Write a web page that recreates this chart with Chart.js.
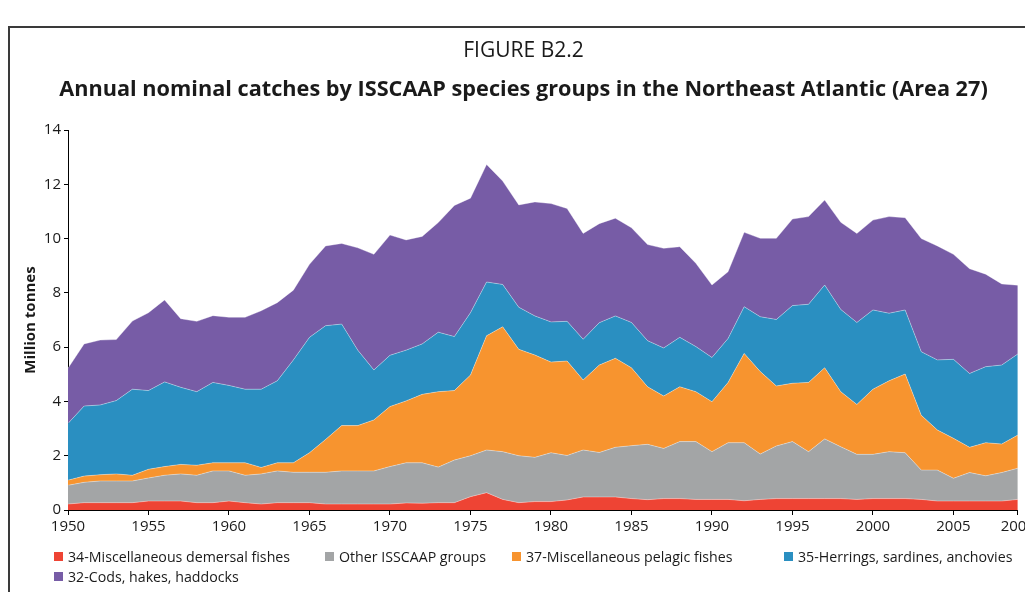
<!DOCTYPE html>
<html>
<head>
<meta charset="utf-8">
<script src="https://cdn.jsdelivr.net/npm/chart.js@4.4.0/dist/chart.umd.min.js"></script>
<style>
  html, body { margin: 0; padding: 0; background: #fff; overflow: hidden; width: 1025px; height: 592px; }
  #frame { position: absolute; left: 8px; top: 26px; width: 1100px; height: 700px;
           border-left: 2px solid #3a3a3a; border-top: 2px solid #3a3a3a; }
  #wrap { position: absolute; left: 0; top: 0; width: 1038px; height: 592px; }
  .lg { position: absolute; font-family: 'Open Sans', sans-serif; font-size: 14.2px; color: #1a1a1a;
        white-space: nowrap; line-height: 18px; }
  .lg i { position: absolute; left: 0; top: 4px; width: 9px; height: 9px; }
  .lg span { padding-left: 14px; }
</style>
</head>
<body>
<div id="frame"></div>
<div id="wrap"><canvas id="catchChart" width="1038" height="592"></canvas></div>
<div id="legend"></div>
<script>
// years on the x axis and the ones that get a label
const years = [];
for (let y = 1950; y <= 2009; y++) years.push(String(y));
const xTickLabels = ['1950', '1955', '1960', '1965', '1970', '1975', '1980', '1985', '1990', '1995', '2000', '2005', '2009'];

// million tonnes (bottom layer first)
const demersal = [0.22, 0.27, 0.27, 0.27, 0.27, 0.33, 0.33, 0.33, 0.27, 0.27,
  0.33, 0.27, 0.22, 0.27, 0.27, 0.27, 0.22, 0.22, 0.22, 0.22,
  0.22, 0.26, 0.25, 0.27, 0.27, 0.49, 0.64, 0.39, 0.27, 0.31,
  0.31, 0.37, 0.48, 0.48, 0.48, 0.42, 0.38, 0.42, 0.42, 0.39,
  0.39, 0.39, 0.34, 0.39, 0.42, 0.42, 0.42, 0.42, 0.42, 0.39,
  0.42, 0.42, 0.42, 0.39, 0.33, 0.33, 0.33, 0.33, 0.33, 0.39];
const otherGroups = [0.69, 0.75, 0.80, 0.80, 0.80, 0.85, 0.95, 1.00, 1.01, 1.17,
  1.11, 1.01, 1.11, 1.17, 1.12, 1.12, 1.17, 1.22, 1.22, 1.22,
  1.38, 1.48, 1.49, 1.31, 1.57, 1.51, 1.57, 1.76, 1.73, 1.63,
  1.80, 1.64, 1.73, 1.64, 1.83, 1.95, 2.04, 1.85, 2.10, 2.13,
  1.76, 2.09, 2.14, 1.67, 1.94, 2.10, 1.73, 2.20, 1.91, 1.66,
  1.63, 1.73, 1.69, 1.08, 1.14, 0.84, 1.05, 0.93, 1.05, 1.15];
const pelagic = [0.19, 0.23, 0.23, 0.26, 0.21, 0.32, 0.32, 0.35, 0.37, 0.30,
  0.30, 0.46, 0.24, 0.30, 0.35, 0.72, 1.21, 1.67, 1.67, 1.88,
  2.21, 2.28, 2.52, 2.78, 2.56, 2.97, 4.21, 4.60, 3.92, 3.77,
  3.34, 3.48, 2.58, 3.22, 3.28, 2.87, 2.12, 1.93, 2.02, 1.84,
  1.84, 2.22, 3.29, 3.04, 2.21, 2.15, 2.55, 2.62, 2.03, 1.84,
  2.40, 2.61, 2.90, 2.02, 1.48, 1.47, 0.93, 1.22, 1.05, 1.22];
const herrings = [2.09, 2.58, 2.57, 2.70, 3.17, 2.90, 3.12, 2.84, 2.71, 2.96,
  2.85, 2.71, 2.88, 3.02, 3.79, 4.25, 4.19, 3.74, 2.78, 1.84,
  1.89, 1.87, 1.86, 2.19, 1.99, 2.30, 1.98, 1.56, 1.55, 1.44,
  1.48, 1.46, 1.50, 1.56, 1.56, 1.67, 1.70, 1.77, 1.82, 1.66,
  1.63, 1.62, 1.72, 2.02, 2.45, 2.86, 2.88, 3.05, 3.03, 3.02,
  2.92, 2.49, 2.36, 2.34, 2.58, 2.91, 2.72, 2.80, 2.91, 2.99];
const cods = [2.03, 2.29, 2.39, 2.25, 2.51, 2.87, 3.02, 2.53, 2.59, 2.46,
  2.51, 2.65, 2.89, 2.88, 2.57, 2.69, 2.94, 2.97, 3.77, 4.26,
  4.43, 4.06, 3.96, 4.04, 4.83, 4.22, 4.33, 3.81, 3.77, 4.20,
  4.36, 4.16, 3.90, 3.65, 3.60, 3.49, 3.54, 3.67, 3.34, 3.07,
  2.67, 2.46, 2.74, 2.89, 2.99, 3.19, 3.23, 3.13, 3.21, 3.28,
  3.31, 3.56, 3.40, 4.17, 4.20, 3.87, 3.86, 3.41, 2.99, 2.53];

const seriesNames = ['34-Miscellaneous demersal fishes', 'Other ISSCAAP groups',
  '37-Miscellaneous pelagic fishes', '35-Herrings, sardines, anchovies', '32-Cods, hakes, haddocks'];
const seriesValues = [demersal, otherGroups, pelagic, herrings, cods];
const seriesColors = ['#ee4434', '#a3a5a6', '#f7942f', '#2a8fc1', '#775ca6'];

const font = "'Open Sans', sans-serif";
const ink = '#1a1a1a';

// html legend, two rows like the printed figure
const legendPos = [[54, 548], [325, 548], [512, 548], [784, 548], [54, 568]];
const legendDiv = document.getElementById('legend');
seriesNames.forEach((name, i) => {
  const d = document.createElement('div');
  d.className = 'lg';
  d.style.left = legendPos[i][0] + 'px';
  d.style.top = legendPos[i][1] + 'px';
  d.innerHTML = `<i style="background:${seriesColors[i]}"></i><span>${name}</span>`;
  legendDiv.appendChild(d);
});

const ctx = document.getElementById('catchChart').getContext('2d');
new Chart(ctx, {
  type: 'line',
  data: {
    labels: years,
    datasets: seriesNames.map((name, i) => ({
      label: name,
      data: seriesValues[i],
      backgroundColor: seriesColors[i],
      borderColor: 'rgba(255,255,255,0.35)',
      borderWidth: 1,
      fill: i === 0 ? 'origin' : '-1',
      pointRadius: 0,
      tension: 0
    }))
  },
  options: {
    responsive: false,
    animation: false,
    // left padding keeps the titles centred on the framed page, not the canvas
    layout: { padding: { top: 10, left: 29, right: 20, bottom: 0 } },
    plugins: {
      legend: { display: false },
      tooltip: { enabled: false },
      title: {
        display: true,
        text: 'FIGURE B2.2',
        color: ink,
        font: { family: font, size: 21, weight: 'normal', lineHeight: 1.1 },
        padding: { top: 29, bottom: 15 }
      },
      subtitle: {
        display: true,
        text: 'Annual nominal catches by ISSCAAP species groups in the Northeast Atlantic (Area 27)',
        color: ink,
        font: { family: font, size: 21.7, weight: 'bold', lineHeight: 1.2 },
        padding: { top: 0, bottom: 26.86 }
      }
    },
    scales: {
      x: {
        offset: false,
        grid: {
          drawOnChartArea: false,
          tickLength: 5,
          color: c => (c.tick && c.tick.label) ? '#000' : 'rgba(0,0,0,0)'
        },
        border: { color: '#000', width: 1 },
        ticks: {
          autoSkip: false,
          maxRotation: 0,
          padding: 3,
          color: ink,
          font: { family: font, size: 15 },
          callback: function (v) {
            const l = this.getLabelForValue(v);
            return xTickLabels.includes(l) ? l : '';
          }
        },
        afterFit: s => { s.height = 82; }
      },
      y: {
        stacked: true,
        min: 0,
        max: 14,
        grid: { drawOnChartArea: false, tickLength: 4, color: '#000' },
        border: { color: '#000', width: 1 },
        ticks: { stepSize: 2, padding: 3, color: ink, font: { family: font, size: 15 } },
        title: {
          display: true,
          text: 'Million tonnes',
          color: ink,
          font: { family: font, size: 15, weight: 'bold', lineHeight: 1.2 },
          padding: { top: -7, bottom: 0 }
        },
        afterFit: s => { s.width = 39; }
      }
    }
  }
});
</script>
</body>
</html>
